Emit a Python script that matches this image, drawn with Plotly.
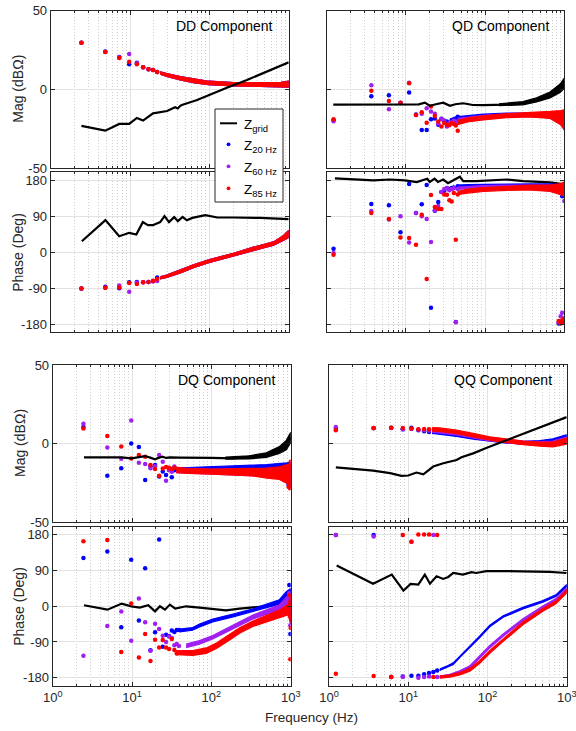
import plotly.graph_objects as go

W, H = 576, 731
BLUE = '#0000FF'
PURPLE = '#A020F0'
RED = '#FF0000'
BLACK = '#000000'
AXC = '#262626'
FONT = 'Liberation Sans, Arial, sans-serif'

# ---------------- measurement frequency grids (Hz) ----------------
F_LEFT = [2.44, 4.88, 7.32, 9.76, 12.2, 14.64, 17.08, 19.52, 21.96, 24.4,
          26.84, 29.28, 31.72, 34.16, 36.6, 39.04]
F_RIGHT = [1.22, 3.66, 6.10, 8.54, 10.98, 13.42, 15.86, 18.30, 20.74, 23.18,
           25.62, 28.06, 30.50, 32.94, 35.38, 37.82, 40.26, 42.70, 45.14]

# ---------------- legend labels ----------------
LEGEND_NAMES = ['Z<sub>grid</sub>', 'Z<sub>20 Hz</sub>', 'Z<sub>60 Hz</sub>', 'Z<sub>85 Hz</sub>']

# ---------------- DD magnitude ----------------
DDM_GRID_F = [2.44, 4.88, 7.32, 9.76, 12.2, 14.6, 19.5, 29.3, 37, 40, 43, 45, 70, 98, 166, 298, 532, 1000]
DDM_GRID_V = [-23.3, -26.3, -22.0, -22.0, -18.2, -19.9, -15.3, -13.8, -11.4, -12.2, -10.5, -10.0, -6.8, -3.6, 1.0, 5.9, 11.2, 17.1]
DDM_DOT_B = [29.6, 23.9, 20.5, 15.9, 16.9, 14.0, 12.7, 12.3, 11.0]
DDM_DOT_P = [29.6, 23.7, 20.3, 22.4, 16.5, 14.0, 12.7, 12.3, 11.0]
DDM_DOT_R = [29.6, 23.7, 19.8, 17.5, 15.9, 14.0, 12.7, 12.3, 11.0]
DDM_BAND_F = [24, 29, 43, 63, 98, 202, 437, 800, 1000]
DDM_BAND_C = [10.3, 9.1, 7.0, 5.3, 4.0, 3.2, 3.0, 3.0, 3.2]
DDM_BAND_H = [0.8, 0.9, 1.0, 1.1, 1.1, 1.1, 1.2, 1.4, 1.9]

# ---------------- DD phase ----------------
DDP_GRID_F = [2.47, 4.9, 7.3, 9.77, 12, 14.5, 16.8, 19.4, 24, 27.2, 31, 36, 40, 46, 52, 61, 89, 126, 200, 436, 1000]
DDP_GRID_V = [27.6, 80.4, 40.2, 48.7, 44.5, 75.4, 67.8, 67.8, 75.4, 90.5, 75.4, 88, 78, 88.5, 80, 86, 93, 87, 87, 86, 83]
DDP_DOT_B = [-90.4, -86, -90, -75, -74.4, -75, -74, -72, -63]
DDP_DOT_P = [-90.4, -88.7, -83, -98.7, -76, -75, -74, -73, -72]
DDP_DOT_R = [-90.4, -88.7, -88, -77, -79, -75, -74, -71, -67]
DDP_BAND_F = [24, 29, 43, 63, 98, 202, 360, 645, 863, 1000]
DDP_BAND_C = [-64, -60, -48, -35, -22.6, -5.8, 9.3, 22, 36, 46]
DDP_BAND_H = [2.5, 3, 3.5, 3.5, 3.5, 3.5, 3.5, 4, 6, 9]

# ---------------- QD magnitude ----------------
QDM_GRID_F = [1.21, 3.9, 9.7, 14.5, 17.4, 20, 24, 29.6, 36, 42, 53, 70, 95, 187, 303, 446, 660, 885, 1000]
QDM_GRID_V = [-9.8, -9.8, -9.8, -9.6, -8.5, -10.5, -9.5, -8.5, -10.5, -9.5, -8.9, -10.0, -10.1, -9.8, -8.9, -6.8, -3.6, 0.6, 3.8]
QDM_GBAND_F = [150, 300, 446, 660, 885, 1000]
QDM_GBAND_C = [-9.8, -8.9, -6.8, -3.6, 0.6, 3.8]
QDM_GBAND_H = [0.6, 1.0, 1.3, 1.9, 2.7, 3.2]
QDM_DOT_B = [-19.5, -4.5, -3.8, -8.7, -2.1, -16.0, -25.8, -25.8, -19.0, -18.5, -22.5, -18.7, -20.0, -20.5, -21.5, -19.5, -19.0, -18.5, -17.5]
QDM_DOT_P = [-20.3, 2.5, -12.7, -8.5, 4.2, -16.3, -15.6, -12.1, -14.2, -15.6, -21.8, -19.0, -19.8, -23.7, -21.5, -21.0, -20.0, -20.5, -21.0]
QDM_DOT_R = [-19.0, -0.9, -7.4, -8.5, 3.8, -16.3, -14.6, -21.2, -11.0, -17.0, -20.4, -23.7, -21.5, -22.5, -22.8, -21.5, -22.0, -23.0, -26.3]
QDM_BAND_F = [45, 60, 95, 187, 360, 660, 900, 1000]
QDM_BAND_C_B = [-18.4, -17.5, -16.8, -16.1, -16.3, -16.5, -17.0, -17.0]
QDM_BAND_H_B = [1.0, 1.0, 1.0, 1.0, 1.0, 1.3, 2.5, 3.5]
QDM_BAND_C_P = [-19.5, -18.5, -17.5, -16.6, -16.3, -16.5, -17.5, -18.0]
QDM_BAND_H_P = [1.0, 1.0, 1.0, 1.0, 1.0, 1.5, 3.0, 4.0]
QDM_BAND_C_R = [-21.2, -19.5, -18.2, -16.8, -16.2, -16.3, -18.0, -19.5]
QDM_BAND_H_R = [1.3, 1.3, 1.3, 1.3, 1.4, 2.2, 4.5, 6.5]

# ---------------- QD phase ----------------
QDP_GRID_F = [1.27, 3.9, 6.3, 9.7, 13.7, 18.6, 20, 23, 25.4, 29.6, 34, 48, 53, 78, 187, 303, 660, 1000]
QDP_GRID_V = [184.7, 180, 182, 180, 175.5, 184, 176, 184, 176, 182, 173, 189, 178, 178, 182, 178, 175, 170]
QDP_DOT_B = [8.8, 121, 117.6, 50, 171, 98, 120, 168, -138.7, 104, 126, 151, 154, 161, 158, 161, 162, -174, 165]
QDP_DOT_P = [-2, 103.5, 82, 90, 24.6, 98.5, 90, 83, 25.6, 105, 116, 151, 158, 160, 155, 158, 160, -175, 158]
QDP_DOT_R = [-6.3, 98.5, 83.4, 37, 35.6, 18.8, 94, -66.6, 143, 113.5, 108, 108, 144.5, 144, 130, 127, 148, 31.4, 144.6]
QDP_BAND_F = [45, 60, 95, 187, 360, 660, 900, 1000]
QDP_BAND_C_B = [165, 166, 167, 168, 168, 167, 163, 158]
QDP_BAND_H_B = [3, 3, 3, 3, 3, 4, 7, 10]
QDP_BAND_C_P = [160, 162, 164, 165, 166, 164, 160, 152]
QDP_BAND_H_P = [3, 3, 3, 3, 3, 4, 8, 12]
QDP_BAND_C_R = [148, 153, 157, 160, 162, 160, 158, 158]
QDP_BAND_H_R = [4, 5, 5, 5, 6, 8, 14, 18]
QDP_END_F = [850, 900, 940, 975, 1000]
QDP_END_B = [-178, -176, 140, -172, -168]
QDP_END_P = [-175, -160, -151, -170, 128]
QDP_END_R = [-172, -178, -170, -176, -165]

# ---------------- DQ magnitude ----------------
DQM_GRID_F = [2.48, 4.9, 7.3, 9.9, 12, 14.5, 17, 19.4, 22, 24, 27, 30, 40, 60, 100, 187, 360, 493, 720, 880, 1000]
DQM_GRID_V = [-8.8, -8.9, -8.8, -9.5, -8.8, -8.0, -9.0, -10.1, -9.0, -8.4, -9.2, -8.8, -9.0, -9.0, -9.2, -9.5, -8.4, -7.4, -4.2, -1.0, 3.8]
DQM_GBAND_F = [150, 300, 493, 720, 880, 1000]
DQM_GBAND_C = [-9.3, -8.8, -7.4, -4.2, -1.0, 3.8]
DQM_GBAND_H = [0.6, 1.0, 1.5, 2.2, 3.0, 3.3]
DQM_DOT_B = [10.5, -20.6, -15.8, 0.0, -2.3, -23.2, -14.5, -13.7, -21.0, -17.9, -20.0, -16.8, -21.5, -17.0]
DQM_DOT_P = [12.6, -2.5, -9.7, 14.7, -12.2, -13.0, -15.8, -14.5, -7.4, -11.6, -23.8, -17.0, -18.0, -14.7]
DQM_DOT_R = [9.5, 4.8, -1.9, -9.5, -7.4, -8.4, -13.7, -16.2, -20.6, -16.0, -15.0, -15.4, -16.2, -15.5]
DQM_BAND_F = [36, 50, 100, 200, 330, 500, 720, 900, 1000]
DQM_BAND_C_B = [-16.5, -16.5, -16.0, -15.5, -15.0, -14.8, -14.5, -14.5, -15.0]
DQM_BAND_H_B = [1.2, 1.2, 1.2, 1.2, 1.2, 1.4, 1.7, 2.2, 3.0]
DQM_BAND_C_P = [-17.0, -17.3, -17.8, -18.0, -18.2, -18.5, -18.7, -19.0, -19.5]
DQM_BAND_H_P = [1.5, 1.5, 1.5, 1.7, 2.0, 2.5, 3.2, 4.5, 5.5]
DQM_BAND_C_R = [-16.8, -17.5, -17.9, -18.2, -18.3, -18.8, -18.9, -19.5, -20.0]
DQM_BAND_H_R = [1.7, 1.5, 1.6, 2.0, 2.4, 3.2, 4.0, 6.0, 7.5]
DQM_END_F = [940, 980, 1000]
DQM_END_B = [-26.3, -22.0, -27.4]
DQM_END_P = [-24.0, -26.7, -20.0]
DQM_END_R = [-27.5, -28.5, -11.6]

# ---------------- QQ magnitude ----------------
QQM_GRID_F = [1.22, 3.6, 5.9, 8.2, 10, 12.7, 15.5, 20.7, 27.7, 40.7, 47, 66, 100, 174, 283, 505, 1000]
QQM_GRID_V = [-15.2, -17.3, -18.9, -20.6, -20.4, -18.5, -19.6, -14.7, -12.6, -10.5, -8.8, -6.3, -2.5, 2.1, 6.3, 10.9, 16.8]
QQM_DOT_B = [9.5, 9.7, 9.9, 9.1, 10.1, 8.4, 7.8, 7.4]
QQM_DOT_P = [10.5, 9.9, 10.0, 9.0, 9.3, 8.8, 8.5, 8.3]
QQM_DOT_R = [8.4, 9.9, 10.1, 9.9, 9.5, 9.1, 9.3, 9.1]
QQM_BAND_F = [20, 25, 40.7, 66, 107, 174, 283, 460, 670, 1000]
QQM_BAND_C_B = [7.3, 6.7, 5.3, 3.6, 2.1, 1.05, 0.6, 1.05, 2.1, 4.6]
QQM_BAND_H_B = [0.8, 0.8, 0.8, 0.8, 0.8, 0.8, 0.8, 0.8, 0.9, 1.0]
QQM_BAND_C_P = [8.3, 7.8, 6.4, 4.5, 2.7, 1.4, 0.5, 0.2, 0.5, 2.8]
QQM_BAND_H_P = [1.0, 1.0, 1.0, 1.0, 1.0, 1.0, 1.0, 1.0, 1.1, 1.3]
QQM_BAND_C_R = [9.0, 8.8, 7.4, 5.3, 3.2, 1.7, 0.4, -0.4, -0.6, 1.5]
QQM_BAND_H_R = [1.1, 1.1, 1.1, 1.1, 1.1, 1.1, 1.2, 1.3, 1.5, 2.0]

# ---------------- DQ phase ----------------
DQP_GRID_F = [2.48, 4.9, 7.4, 9.8, 12.5, 16, 19.5, 22.5, 26, 30, 35, 48, 71, 104, 153, 227, 334, 490, 720, 920, 1000]
DQP_GRID_V = [2.6, -8.5, 6.8, 0, -3.4, 2.6, -12.8, 0, -8.5, 4.3, -6, 0, -3.4, -6, -10, -6, -3.4, 0, 6.8, 19.6, 28]
DQP_DOT_B = [121.7, 138, -52.8, 117.4, -35.7, 96, -110.6, -65.5, 168.5, -102, -72, -75, -61.3, -65, -60, -59.6]
DQP_DOT_P = [-125, -49.4, -12.8, -86.8, 19.6, -40, -112, -44, -57, -74, -90, -76, -80, -98, -95, -100]
DQP_DOT_R = [164, 167, -115, 6.8, -129.4, -69.8, -137.9, -84.3, -103.8, -85, -103.8, -108, -82.6, -110, -119, -116]
DQP_BAND_F_B = [40, 58, 71, 104, 188, 334, 490, 720, 880, 1000]
DQP_BAND_C_B = [-61, -57, -48.5, -35.7, -23, -10, 0, 11, 25, 0]
DQP_BAND_H_B = [3.5, 3.5, 3.5, 3.5, 3.5, 3.5, 4.5, 5.5, 12, 45]
DQP_BAND_F_P = [48, 71, 104, 153, 227, 334, 490, 720, 920, 1000]
DQP_BAND_C_P = [-99.6, -91, -78, -61, -44, -27, -14.5, -3.4, 15, 0]
DQP_BAND_H_P = [4.5, 4.5, 4.5, 5, 5, 5, 6, 7, 12, 32]
DQP_BAND_F_R = [36, 58, 86, 116, 170, 227, 334, 490, 720, 920, 1000]
DQP_BAND_C_R = [-117, -118, -112, -99.6, -78, -61, -44, -31.5, -18.7, -8.5, -8]
DQP_BAND_H_R = [5, 6, 7, 7, 7, 7, 7, 8, 9, 13, 34]
DQP_END_F = [960, 990, 1000]
DQP_END_B = [53.6, -70, 35]
DQP_END_P = [33, -48, 25]
DQP_END_R = [28, -133.6, -55]

# ---------------- QQ phase ----------------
QQP_GRID_F = [1.25, 3.6, 6.2, 8.7, 10.7, 13.4, 16.2, 18.8, 22.8, 27.6, 32, 37, 49, 63, 72, 97, 174, 280, 610, 1000]
QQP_GRID_V = [103, 57, 80, 39.4, 56.4, 54.7, 80, 57, 75.8, 69, 74, 84, 80, 86, 84, 88.6, 88.6, 88.6, 87, 84]
QQP_DOT_B = [180, 180, -178, -177, -175, -175, -171.6, -168, -165.7, -162]
QQP_DOT_P = [180, 176, -178, -178, 163, -180, -178, -177, 180, -178]
QQP_DOT_R = [-170, -176, -178, 180, 163, 181, 181, 181, -178, 180]
QQP_BAND_F_B = [25, 30.5, 37, 44.6, 60, 80, 107, 158, 280, 500, 730, 1000]
QQP_BAND_C_B = [-160, -153, -144.5, -127.5, -102, -76.7, -49.6, -25.8, -4.7, 12.3, 26.7, 52]
QQP_BAND_H_B = [2, 2, 2, 2, 2, 2, 2, 2, 2, 2, 2, 3]
QQP_BAND_F_PR = [25, 33.5, 44.6, 60, 80, 107, 158, 280, 500, 730, 1000]
QQP_BAND_C_P = [-178.4, -174, -165.7, -153, -127.5, -102, -72.5, -34.3, -2, 16.5, 42]
QQP_BAND_H_P = [2.5, 2.5, 3, 3, 3, 3, 3, 3, 3, 3, 3.5]
QQP_BAND_C_R = [-178.4, -176, -170, -160, -140, -115, -85, -43, -9, 9.7, 37.7]
QQP_BAND_H_R = [2.5, 3, 3, 3.5, 3.5, 3.5, 3.5, 3.5, 3.5, 3.5, 4]

# ---------------- layout geometry (pixels) ----------------
X_TL, X_TR = (50.7, 288.7), (326.7, 564.3)
X_BL, X_BR = (52.7, 290.7), (329.0, 566.7)
ROWS = [(10.5, 168.0), (172.3, 332.3), (365.0, 522.0), (527.0, 685.6)]

fig = go.Figure()


def axn(i):
    return ('x' if i == 1 else 'x%d' % i), ('y' if i == 1 else 'y%d' % i)


def band(i, f, c, h, color):
    xa, ya = axn(i)
    lo = [a - b for a, b in zip(c, h)]
    hi = [a + b for a, b in zip(c, h)]
    fig.add_trace(go.Scatter(x=list(f) + list(f)[::-1], y=lo + hi[::-1], mode='lines',
                             fill='toself', fillcolor=color,
                             line=dict(color=color, width=1.2),
                             xaxis=xa, yaxis=ya, showlegend=False, hoverinfo='skip'))


def dots(i, f, v, color):
    xa, ya = axn(i)
    fig.add_trace(go.Scatter(x=list(f)[:len(v)], y=v, mode='markers',
                             marker=dict(color=color, size=4.5, line=dict(width=0)),
                             xaxis=xa, yaxis=ya, showlegend=False, hoverinfo='skip'))


def gridline(i, f, v):
    xa, ya = axn(i)
    fig.add_trace(go.Scatter(x=f, y=v, mode='lines', line=dict(color=BLACK, width=2.2),
                             xaxis=xa, yaxis=ya, showlegend=False, hoverinfo='skip'))


# Panel 1: DD magnitude
band(1, DDM_BAND_F, DDM_BAND_C, DDM_BAND_H, BLUE)
dots(1, F_LEFT, DDM_DOT_B, BLUE)
band(1, DDM_BAND_F, DDM_BAND_C, DDM_BAND_H, PURPLE)
dots(1, F_LEFT, DDM_DOT_P, PURPLE)
band(1, DDM_BAND_F, DDM_BAND_C, DDM_BAND_H, RED)
dots(1, F_LEFT, DDM_DOT_R, RED)
gridline(1, DDM_GRID_F, DDM_GRID_V)

# Panel 2: QD magnitude
band(2, QDM_BAND_F, QDM_BAND_C_B, QDM_BAND_H_B, BLUE)
dots(2, F_RIGHT, QDM_DOT_B, BLUE)
band(2, QDM_BAND_F, QDM_BAND_C_P, QDM_BAND_H_P, PURPLE)
dots(2, F_RIGHT, QDM_DOT_P, PURPLE)
band(2, QDM_BAND_F, QDM_BAND_C_R, QDM_BAND_H_R, RED)
dots(2, F_RIGHT, QDM_DOT_R, RED)
band(2, QDM_GBAND_F, QDM_GBAND_C, QDM_GBAND_H, BLACK)
gridline(2, QDM_GRID_F, QDM_GRID_V)

# Panel 3: DD phase
band(3, DDP_BAND_F, DDP_BAND_C, DDP_BAND_H, BLUE)
dots(3, F_LEFT, DDP_DOT_B, BLUE)
band(3, DDP_BAND_F, DDP_BAND_C, DDP_BAND_H, PURPLE)
dots(3, F_LEFT, DDP_DOT_P, PURPLE)
band(3, DDP_BAND_F, DDP_BAND_C, DDP_BAND_H, RED)
dots(3, F_LEFT, DDP_DOT_R, RED)
gridline(3, DDP_GRID_F, DDP_GRID_V)

# Panel 4: QD phase
gridline(4, QDP_GRID_F, QDP_GRID_V)
band(4, QDP_BAND_F, QDP_BAND_C_B, QDP_BAND_H_B, BLUE)
dots(4, F_RIGHT, QDP_DOT_B, BLUE)
dots(4, QDP_END_F, QDP_END_B, BLUE)
band(4, QDP_BAND_F, QDP_BAND_C_P, QDP_BAND_H_P, PURPLE)
dots(4, F_RIGHT, QDP_DOT_P, PURPLE)
dots(4, QDP_END_F, QDP_END_P, PURPLE)
band(4, QDP_BAND_F, QDP_BAND_C_R, QDP_BAND_H_R, RED)
dots(4, F_RIGHT, QDP_DOT_R, RED)
dots(4, QDP_END_F, QDP_END_R, RED)

# Panel 5: DQ magnitude
band(5, DQM_BAND_F, DQM_BAND_C_B, DQM_BAND_H_B, BLUE)
dots(5, F_LEFT, DQM_DOT_B, BLUE)
dots(5, DQM_END_F, DQM_END_B, BLUE)
band(5, DQM_BAND_F, DQM_BAND_C_P, DQM_BAND_H_P, PURPLE)
dots(5, F_LEFT, DQM_DOT_P, PURPLE)
dots(5, DQM_END_F, DQM_END_P, PURPLE)
band(5, DQM_BAND_F, DQM_BAND_C_R, DQM_BAND_H_R, RED)
dots(5, F_LEFT, DQM_DOT_R, RED)
dots(5, DQM_END_F, DQM_END_R, RED)
band(5, DQM_GBAND_F, DQM_GBAND_C, DQM_GBAND_H, BLACK)
gridline(5, DQM_GRID_F, DQM_GRID_V)

# Panel 6: QQ magnitude
band(6, QQM_BAND_F, QQM_BAND_C_B, QQM_BAND_H_B, BLUE)
dots(6, F_RIGHT, QQM_DOT_B, BLUE)
band(6, QQM_BAND_F, QQM_BAND_C_P, QQM_BAND_H_P, PURPLE)
dots(6, F_RIGHT, QQM_DOT_P, PURPLE)
band(6, QQM_BAND_F, QQM_BAND_C_R, QQM_BAND_H_R, RED)
dots(6, F_RIGHT, QQM_DOT_R, RED)
gridline(6, QQM_GRID_F, QQM_GRID_V)

# Panel 7: DQ phase
gridline(7, DQP_GRID_F, DQP_GRID_V)
band(7, DQP_BAND_F_B, DQP_BAND_C_B, DQP_BAND_H_B, BLUE)
dots(7, F_LEFT, DQP_DOT_B, BLUE)
dots(7, DQP_END_F, DQP_END_B, BLUE)
band(7, DQP_BAND_F_P, DQP_BAND_C_P, DQP_BAND_H_P, PURPLE)
dots(7, F_LEFT, DQP_DOT_P, PURPLE)
dots(7, DQP_END_F, DQP_END_P, PURPLE)
band(7, DQP_BAND_F_R, DQP_BAND_C_R, DQP_BAND_H_R, RED)
dots(7, F_LEFT, DQP_DOT_R, RED)
dots(7, DQP_END_F, DQP_END_R, RED)

# Panel 8: QQ phase
band(8, QQP_BAND_F_B, QQP_BAND_C_B, QQP_BAND_H_B, BLUE)
dots(8, F_RIGHT, QQP_DOT_B, BLUE)
band(8, QQP_BAND_F_PR, QQP_BAND_C_P, QQP_BAND_H_P, PURPLE)
dots(8, F_RIGHT, QQP_DOT_P, PURPLE)
band(8, QQP_BAND_F_PR, QQP_BAND_C_R, QQP_BAND_H_R, RED)
dots(8, F_RIGHT, QQP_DOT_R, RED)
gridline(8, QQP_GRID_F, QQP_GRID_V)

# ---------------- axes ----------------
MAJOR_X = [1, 10, 100, 1000]
MINOR_X = [m * d for d in (1, 10, 100) for m in range(2, 10)]
XTEXT = ['10<sup>0</sup>', '10<sup>1</sup>', '10<sup>2</sup>', '10<sup>3</sup>']
MAG_TICKS = [-50, 0, 50]
MAG_TEXT = ['-50', '0', '50']
PH_TICKS = [-180, -90, 0, 90, 180]
PH_TEXT = ['-180', '-90', '0', '90', '180']

panels = [
    (1, X_TL, 0, 'mag', False, True),
    (2, X_TR, 0, 'mag', False, False),
    (3, X_TL, 1, 'ph', False, True),
    (4, X_TR, 1, 'ph', False, False),
    (5, X_BL, 2, 'mag', False, True),
    (6, X_BR, 2, 'mag', False, False),
    (7, X_BL, 3, 'ph', True, True),
    (8, X_BR, 3, 'ph', True, False),
]

tickfont = dict(family=FONT, size=13, color=AXC)
for idx, xd, row, kind, sx, sy in panels:
    top, bot = ROWS[row]
    xkey = 'xaxis' if idx == 1 else 'xaxis%d' % idx
    ykey = 'yaxis' if idx == 1 else 'yaxis%d' % idx
    xa, ya = axn(idx)
    fig.layout[xkey] = dict(
        type='log', range=[0, 3], domain=[xd[0] / W, xd[1] / W], anchor=ya,
        showline=True, linecolor=AXC, linewidth=1, mirror='allticks',
        ticks='inside', ticklen=4, tickcolor=AXC, tickwidth=1,
        tickmode='array', tickvals=MAJOR_X, ticktext=XTEXT, showticklabels=sx,
        ticklabeloverflow='allow',
        tickfont=tickfont, showgrid=True, gridcolor='#e2e2e2', gridwidth=1.2,
        zeroline=False, automargin=False, fixedrange=True,
        minor=dict(tickmode='array', tickvals=MINOR_X, ticks='inside', ticklen=2,
                   tickcolor=AXC, showgrid=True, gridcolor='#cfcfcf',
                   griddash='1px,2px', gridwidth=1),
    )
    if kind == 'mag':
        yr, tv, tt = [-50, 50], MAG_TICKS, MAG_TEXT
    else:
        yr, tv, tt = [-200, 200], PH_TICKS, PH_TEXT
    fig.layout[ykey] = dict(
        range=yr, domain=[1 - bot / H, 1 - top / H], anchor=xa,
        showline=True, linecolor=AXC, linewidth=1, mirror='allticks',
        ticks='inside', ticklen=4, tickcolor=AXC, tickwidth=1,
        tickmode='array', tickvals=tv, ticktext=tt, showticklabels=sy,
        ticklabeloverflow='allow',
        tickfont=tickfont, showgrid=True, gridcolor='#e2e2e2', gridwidth=1.2,
        zeroline=False, automargin=False, fixedrange=True,
    )

# ---------------- annotations ----------------
ann = []
TITLES = [('DD Component', 275, 25.7), ('QD Component', 551, 26),
          ('DQ Component', 277, 380), ('QQ Component', 554, 380)]
for txt, xr, yc in TITLES:
    ann.append(dict(text=txt, x=xr / W, y=1 - yc / H, xref='paper', yref='paper',
                    xanchor='right', yanchor='middle', showarrow=False,
                    font=dict(family=FONT, size=14, color='#000000')))
YLABELS = [('Mag (dB\u03a9)', 18.5, 0), ('Phase (Deg)', 18.5, 1),
           ('Mag (dB\u03a9)', 19.5, 2), ('Phase (Deg)', 19.5, 3)]
for txt, xc, row in YLABELS:
    top, bot = ROWS[row]
    ann.append(dict(text=txt, x=xc / W, y=1 - (top + bot) / 2 / H, xref='paper', yref='paper',
                    xanchor='center', yanchor='middle', textangle=-90, showarrow=False,
                    font=dict(family=FONT, size=14, color=AXC)))
ann.append(dict(text='Frequency (Hz)', x=311 / W, y=1 - 717 / H, xref='paper', yref='paper',
                xanchor='center', yanchor='middle', showarrow=False,
                font=dict(family=FONT, size=13.5, color=AXC)))

# ---------------- legend box (drawn in paper space) ----------------
LEG_BOX = (215, 109, 283, 202)        # left, top, right, bottom (px)
LEG_ROWS = [123.3, 144.3, 166.3, 188.3]
LEG_SYM_X = 228.5
LEG_TEXT_X = 241.5
LEG_COLORS = [BLACK, BLUE, PURPLE, RED]

shapes = [dict(type='rect', xref='paper', yref='paper', layer='above',
               x0=LEG_BOX[0] / W, x1=LEG_BOX[2] / W,
               y0=1 - LEG_BOX[3] / H, y1=1 - LEG_BOX[1] / H,
               fillcolor='white', line=dict(color=AXC, width=1))]
for k, (ry, col, name) in enumerate(zip(LEG_ROWS, LEG_COLORS, LEGEND_NAMES)):
    if k == 0:
        shapes.append(dict(type='line', xref='paper', yref='paper', layer='above',
                           x0=(LEG_SYM_X - 8.5) / W, x1=(LEG_SYM_X + 8.5) / W,
                           y0=1 - ry / H, y1=1 - ry / H,
                           line=dict(color=col, width=2)))
    else:
        r = 1.9
        shapes.append(dict(type='circle', xref='paper', yref='paper', layer='above',
                           x0=(LEG_SYM_X - r) / W, x1=(LEG_SYM_X + r) / W,
                           y0=1 - (ry + r) / H, y1=1 - (ry - r) / H,
                           fillcolor=col, line=dict(color=col, width=0)))
    ann.append(dict(text=name, x=LEG_TEXT_X / W, y=1 - (ry + 2.5) / H,
                    xref='paper', yref='paper', xanchor='left', yanchor='middle',
                    showarrow=False, font=dict(family=FONT, size=13.5, color='#000000')))

fig.update_layout(
    width=W, height=H, autosize=False,
    margin=dict(l=0, r=0, t=0, b=0, pad=0),
    paper_bgcolor='white', plot_bgcolor='white',
    annotations=ann, shapes=shapes,
    showlegend=False,
    font=dict(family=FONT),
)

fig.write_html('out.html', config={'displayModeBar': False},
               post_script="document.body.style.margin='0px';document.body.style.padding='0px';")
